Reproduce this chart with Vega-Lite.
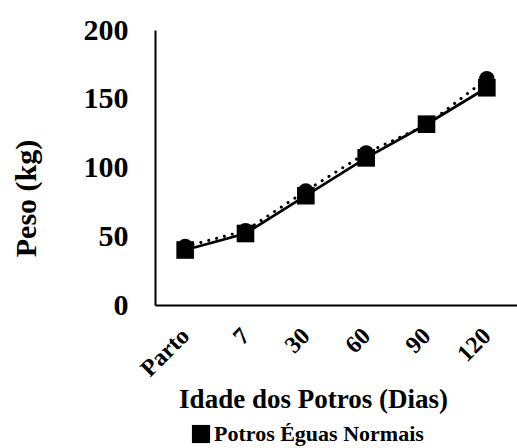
{
  "$schema": "https://vega.github.io/schema/vega-lite/v6.json",
  "autosize": "none",
  "padding": {"left": 155, "top": 30, "right": 0, "bottom": 143},
  "width": 362,
  "height": 275,
  "background": "white",
  "config": {
    "view": {"stroke": null},
    "font": "Liberation Serif",
    "axis": {"labelFont": "Liberation Serif", "titleFont": "Liberation Serif", "labelColor": "black", "titleColor": "black", "labelFontWeight": "bold", "titleFontWeight": "bold", "grid": false, "ticks": false, "domainColor": "black", "domainWidth": 2},
    "legend": {"labelFont": "Liberation Serif", "labelFontWeight": "bold", "labelColor": "black"}
  },
  "data": {"values": [
    {"idade": "Parto", "grupo": "Potros Éguas Normais", "peso": 40},
    {"idade": "7", "grupo": "Potros Éguas Normais", "peso": 52},
    {"idade": "30", "grupo": "Potros Éguas Normais", "peso": 79.5},
    {"idade": "60", "grupo": "Potros Éguas Normais", "peso": 107},
    {"idade": "90", "grupo": "Potros Éguas Normais", "peso": 131.5},
    {"idade": "120", "grupo": "Potros Éguas Normais", "peso": 158},
    {"idade": "Parto", "grupo": "Série 2", "peso": 42.5},
    {"idade": "7", "grupo": "Série 2", "peso": 54},
    {"idade": "30", "grupo": "Série 2", "peso": 83},
    {"idade": "60", "grupo": "Série 2", "peso": 110.5},
    {"idade": "90", "grupo": "Série 2", "peso": 131},
    {"idade": "120", "grupo": "Série 2", "peso": 164.5}
  ]},
  "encoding": {
    "x": {"field": "idade", "type": "nominal", "sort": ["Parto", "7", "30", "60", "90", "120"],
      "scale": {"type": "point", "padding": 0.5},
      "axis": {"title": "Idade dos Potros (Dias)", "labelAngle": -45, "labelAlign": "right", "labelBaseline": "middle", "labelFontSize": 24, "labelPadding": 27, "titleFontSize": 27, "titleX": 158, "titleY": 94, "titleBaseline": "middle", "titleAlign": "center"}},
    "y": {"field": "peso", "type": "quantitative",
      "scale": {"domain": [0, 200]},
      "axis": {"title": "Peso (kg)", "values": [0, 50, 100, 150, 200], "labelFontSize": 30, "labelPadding": 27, "titleFontSize": 30, "titleAngle": -90, "titleX": -129, "titleY": 168, "titleAlign": "center", "titleBaseline": "middle"}}
  },
  "layer": [
    {"transform": [{"filter": "datum.grupo === 'Potros Éguas Normais'"}],
     "mark": {"type": "line", "color": "black", "strokeWidth": 2.8}},
    {"transform": [{"filter": "datum.grupo === 'Série 2'"}],
     "mark": {"type": "line", "color": "black", "strokeWidth": 3, "strokeDash": [0.1, 8], "strokeCap": "round"}},
    {"transform": [{"filter": "datum.grupo === 'Série 2'"}],
     "mark": {"type": "point", "shape": "circle", "filled": true, "color": "black", "opacity": 1, "size": 240}},
    {"transform": [{"filter": "datum.grupo === 'Potros Éguas Normais'"}],
     "mark": {"type": "point", "filled": true, "color": "black", "opacity": 1, "size": 310},
     "encoding": {
       "shape": {"field": "grupo", "type": "nominal", "scale": {"range": ["square"]},
         "legend": {"title": null, "orient": "none", "legendX": 35, "legendY": 393, "symbolSize": 330, "symbolFillColor": "black", "symbolStrokeColor": "black", "symbolOpacity": 1, "labelFontSize": 22, "labelOffset": 2, "labelLimit": 400}}
     }}
  ]
}
